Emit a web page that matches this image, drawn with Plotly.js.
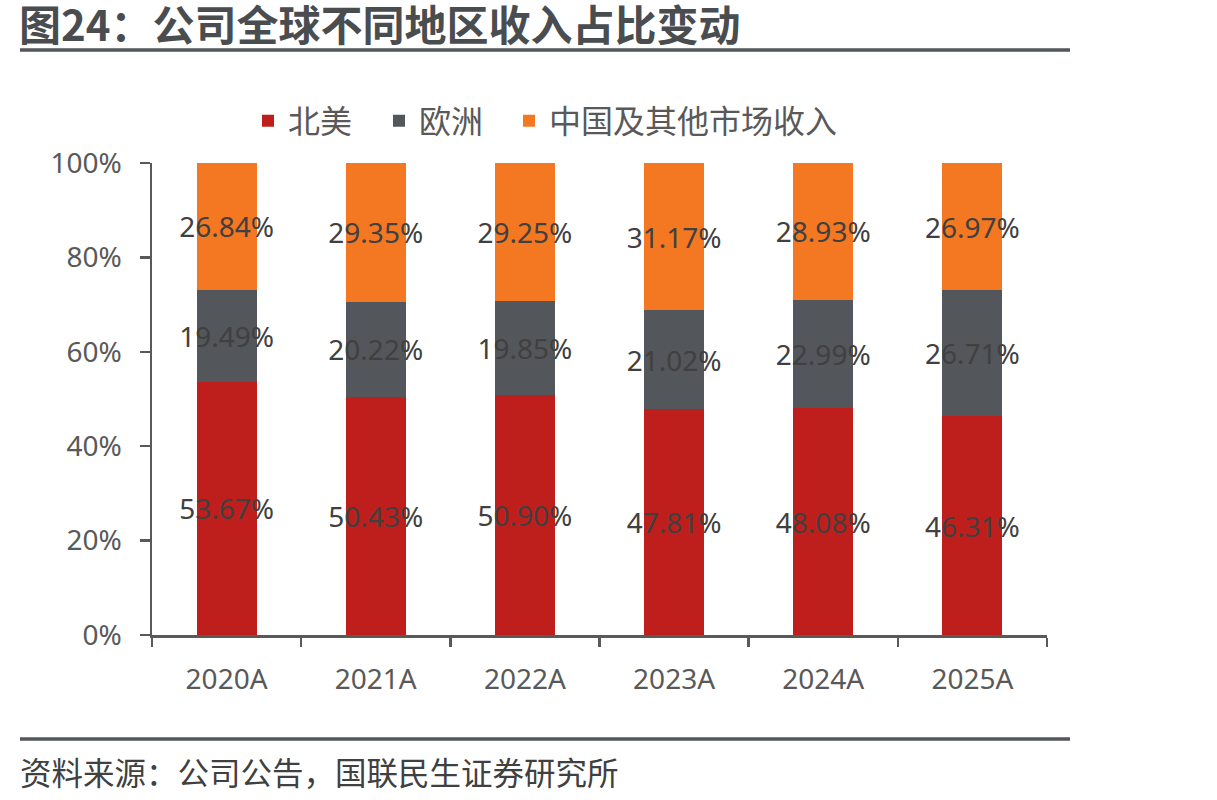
<!DOCTYPE html>
<html>
<head>
<meta charset="utf-8">
<script src="https://cdn.plot.ly/plotly-3.0.1.min.js"></script>
<style>html,body{margin:0;padding:0;background:#fff;}#chart{width:1217px;height:800px;}</style>
</head>
<body>
<div id="chart"></div>
<script>
const categories = ['2020A', '2021A', '2022A', '2023A', '2024A', '2025A'];
const northAmerica = [53.67, 50.43, 50.90, 47.81, 48.08, 46.31];
const europe = [19.49, 20.22, 19.85, 21.02, 22.99, 26.71];
const chinaOther = [26.84, 29.35, 29.25, 31.17, 28.93, 26.97];
const seriesNames = ['北美', '欧洲', '中国及其他市场收入'];
const yTicks = [0, 20, 40, 60, 80, 100];
const titleText = '图24：公司全球不同地区收入占比变动';
const sourceText = '资料来源：公司公告，国联民生证券研究所';

const W = 1217, H = 800;
const L = 152, R = 1047, T = 163, B = 635;
const px = x => (x - L) / (R - L);
const py = y => (B - y) / (B - T);

const font = '"Noto Sans", "Noto Sans CJK SC", sans-serif';
const cjk = '"Noto Sans CJK SC", "Noto Sans", sans-serif';
const colors = ['#BF1F1C', '#53565A', '#F47721'];
const values = [northAmerica, europe, chinaOther];
const legendIds = ['legend', 'legend2', 'legend3'];
const legendX = [248, 379, 509];

const traces = values.map((v, i) => ({
  type: 'bar',
  name: seriesNames[i],
  legend: legendIds[i],
  x: categories,
  y: v,
  marker: {color: colors[i]},
  text: v.map(d => d.toFixed(2) + '%'),
  textposition: 'inside',
  insidetextanchor: 'middle',
  constraintext: 'none',
  textangle: 0,
  textfont: {family: font, size: 28, color: '#404040'},
  hoverinfo: 'skip'
}));

const legendStyle = x => ({
  orientation: 'h', x: px(x), xanchor: 'left', y: py(121), yanchor: 'middle',
  font: {family: cjk, size: 32, color: '#595959'},
  bgcolor: 'rgba(0,0,0,0)',
  itemclick: false
});

const layout = {
  width: W, height: H,
  margin: {l: L, r: W - R, t: T, b: H - B},
  paper_bgcolor: '#fff', plot_bgcolor: '#fff',
  barmode: 'stack',
  bargap: 0.598,
  showlegend: true,
  legend: legendStyle(legendX[0]),
  legend2: legendStyle(legendX[1]),
  legend3: legendStyle(legendX[2]),
  xaxis: {
    type: 'category',
    showline: true, linecolor: '#595959', linewidth: 2.5,
    ticks: 'outside', tickson: 'boundaries', ticklen: 9, tickwidth: 2.5, tickcolor: '#595959',
    tickfont: {family: font, size: 28, color: '#595959'},
    ticklabelstandoff: 18,
    showgrid: false, zeroline: false, fixedrange: true
  },
  yaxis: {
    range: [0, 100],
    tickvals: yTicks,
    ticktext: yTicks.map(t => t + '%'),
    showline: true, linecolor: '#595959', linewidth: 2.5,
    ticks: 'outside', ticklen: 10, tickwidth: 2.5, tickcolor: '#595959',
    tickfont: {family: font, size: 28, color: '#595959'},
    ticklabelstandoff: 12,
    showgrid: false, zeroline: false, fixedrange: true
  },
  shapes: [
    {type: 'line', xref: 'paper', yref: 'paper', x0: px(20), x1: px(1070), y0: py(50), y1: py(50),
     line: {color: '#53565A', width: 3.5}},
    {type: 'line', xref: 'paper', yref: 'paper', x0: px(20), x1: px(1070), y0: py(739), y1: py(739),
     line: {color: '#53565A', width: 3.5}}
  ],
  annotations: [
    {text: '<b>' + titleText + '</b>', xref: 'paper', yref: 'paper', x: px(18), y: py(23),
     xanchor: 'left', yanchor: 'middle', showarrow: false, borderpad: 0,
     font: {family: cjk, size: 42, color: '#4A4D50'}},
    {text: sourceText, xref: 'paper', yref: 'paper', x: px(18), y: py(771),
     xanchor: 'left', yanchor: 'middle', showarrow: false,
     font: {family: cjk, size: 31.5, color: '#404040'}}
  ]
};

Plotly.newPlot('chart', traces, layout, {displayModeBar: false, staticPlot: true});
</script>
</body>
</html>
